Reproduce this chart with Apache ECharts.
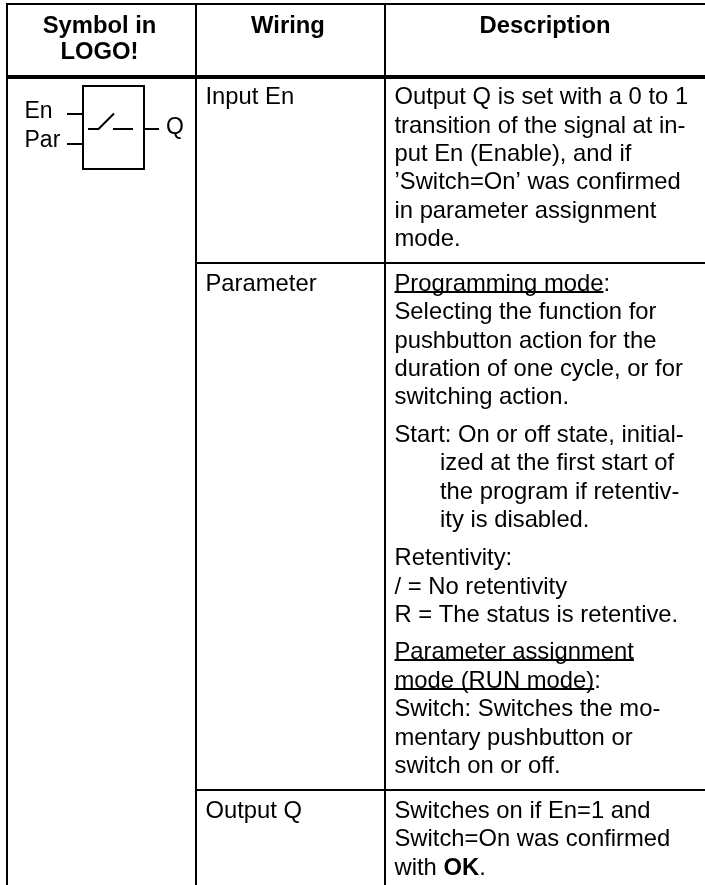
<!DOCTYPE html>
<html><head><meta charset="utf-8">
<style>html,body{margin:0;padding:0;background:#fff;overflow:hidden}#c{width:705px;height:885px}</style>
<script src="https://cdn.jsdelivr.net/npm/echarts@6/dist/echarts.min.js"></script>
</head><body><div id="c"></div>
<script>
const headers = [['Symbol in','LOGO!'],['Wiring'],['Description']];
const wiringLabels = ['Input En','Parameter','Output Q'];
const symbolLabels = ['En','Par','Q'];
const descLines = [
 ['Output Q is set with a 0 to 1'],['transition of the signal at in-'],['put En (Enable), and if'],['’Switch=On’ was confirmed'],['in parameter assignment'],['mode.'],
 ['Programming mode',':'],['Selecting the function for'],['pushbutton action for the'],['duration of one cycle, or for'],['switching action.'],
 ['Start: On or off state, initial-'],['ized at the first start of'],['the program if retentiv-'],['ity is disabled.'],
 ['Retentivity:'],['/ = No retentivity'],['R = The status is retentive.'],
 ['Parameter assignment'],['mode (RUN mode)',':'],['Switch: Switches the mo-'],['mentary pushbutton or'],['switch on or off.'],
 ['Switches on if En=1 and'],['Switch=On was confirmed'],['with ','OK','.']
];
const baselines = [103.5,132,160,188.5,217,245,290,318.5,347,375,403.5,441,469.5,498,526.5,564.5,593,621.5,658.5,687,715.5,744,772.5,817,845.5,874];
const underlined = new Set([6,18,19]);
const indented = new Set([12,13,14]);
const FONT='"Liberation Sans", Arial, sans-serif', FS=23.8, SFS=23, MID=6;
const ctx=document.createElement('canvas').getContext('2d');
const w=(t,b)=>{ctx.font=(b?'bold ':'')+FS+'px "Liberation Sans"';return ctx.measureText(t).width;};
const els=[];
const line=(x1,y1,x2,y2,lw)=>els.push({type:'line',shape:{x1,y1,x2,y2},style:{stroke:'#000',lineWidth:lw,lineCap:'butt'},silent:true});
const text=(t,x,y,o={})=>els.push({type:'text',x,y:y-MID,style:{text:t,fill:'#000',font:(o.b?'bold ':'')+(o.fs||FS)+'px '+FONT,textAlign:o.a||'left',textVerticalAlign:'middle',textBaseline:'middle'},silent:true});
line(6,4,705,4,2); line(6,77,705,77,4); line(196,263,705,263,2); line(196,790,705,790,2);
line(7,3,7,885,2); line(196,3,196,885,2); line(385,3,385,885,2);
text(headers[0][0],99.5,32,{b:1,a:'center'}); text(headers[0][1],99.5,58.7,{b:1,a:'center'});
text(headers[1][0],288,32,{b:1,a:'center'}); text(headers[2][0],545,32,{b:1,a:'center'});
[103.5,290,817].forEach((y,i)=>text(wiringLabels[i],205.5,y));
text(symbolLabels[0],24.5,118,{fs:SFS}); text(symbolLabels[1],24.5,147,{fs:SFS}); text(symbolLabels[2],166,134,{fs:SFS});
els.push({type:'rect',shape:{x:83,y:86,width:61,height:83},style:{fill:null,stroke:'#000',lineWidth:2},silent:true});
line(67,114,82,114,2); line(67,144,82,144,2); line(144,129,159,129,2);
line(88,129,99,129,2); line(98,129.5,114,113.5,2); line(113,129,133,129,2);
descLines.forEach((parts,i)=>{
  let x=indented.has(i)?440:394.5; const y=baselines[i];
  parts.forEach((p,j)=>{
    const b=p==='OK';
    text(p,x,y,{b});
    const pw=w(p,b);
    if(underlined.has(i)&&j===0) line(x,Math.round(y+1.5),x+pw,Math.round(y+1.5),2);
    x+=pw;
  });
});
const chart=echarts.init(document.getElementById('c'),null,{renderer:'canvas'});
chart.setOption({animation:false,backgroundColor:'#fff',graphic:{elements:els}});
</script></body></html>
